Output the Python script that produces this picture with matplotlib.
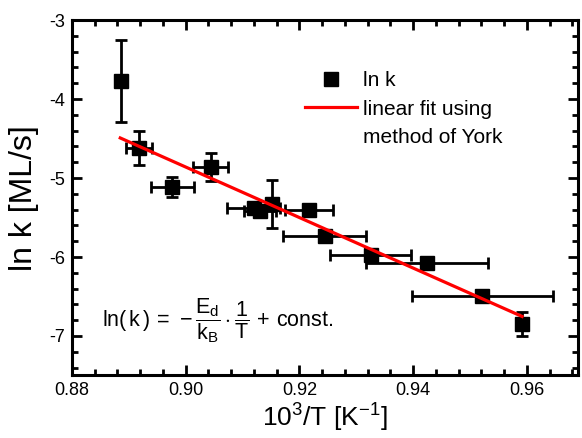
import matplotlib
matplotlib.use('Agg')
import matplotlib.pyplot as plt
from matplotlib.lines import Line2D
from matplotlib.ticker import MultipleLocator, FormatStrFormatter
import numpy as np

plt.rcParams['font.family'] = ['Liberation Sans', 'DejaVu Sans']
plt.rcParams['axes.unicode_minus'] = False
plt.rcParams['mathtext.fontset'] = 'custom'
plt.rcParams['mathtext.rm'] = 'Liberation Sans'
plt.rcParams['mathtext.it'] = 'Liberation Sans:italic'
plt.rcParams['mathtext.bf'] = 'Liberation Sans:bold'

# Data: 10^3/T, ln k and their error bars
inv_T = [0.88869, 0.89186, 0.89767, 0.90437, 0.91195, 0.91300, 0.91512,
         0.92164, 0.92446, 0.93256, 0.94243, 0.95212, 0.95917]
ln_k = [-3.772, -4.620, -5.114, -4.861, -5.380, -5.418, -5.329,
        -5.405, -5.734, -5.975, -6.076, -6.494, -6.848]
x_err = [0.0, 0.0023, 0.0038, 0.0030, 0.0046, 0.0028, 0.0,
         0.0042, 0.0073, 0.0071, 0.0107, 0.0124, 0.0]
y_err = [0.513, 0.22, 0.13, 0.177, 0.05, 0.07, 0.30,
         0.08, 0.05, 0.05, 0.04, 0.04, 0.158]

# York fit: ln k = slope * (10^3/T) + intercept
fit_slope = -31.97
fit_intercept = 23.912

fig = plt.figure(figsize=(5.82, 4.38), dpi=100)
ax = fig.add_axes([0.1237, 0.1427, 0.8694, 0.8116])

ax.errorbar(inv_T, ln_k, xerr=x_err, yerr=y_err, fmt='s', color='black',
            ms=9.5, elinewidth=2.0, capsize=4.5, capthick=2.0, zorder=3)

x_fit = np.array([min(inv_T) - 0.0002, max(inv_T)])
ax.plot(x_fit, fit_slope * x_fit + fit_intercept, color='red', lw=2.3, zorder=4)

ax.set_xlim(0.88, 0.969)
ax.set_ylim(-7.5, -3)
ax.xaxis.set_major_locator(MultipleLocator(0.02))
ax.xaxis.set_minor_locator(MultipleLocator(0.004))
ax.yaxis.set_major_locator(MultipleLocator(1))
ax.yaxis.set_minor_locator(MultipleLocator(0.2))
ax.xaxis.set_major_formatter(FormatStrFormatter('%.2f'))
ax.yaxis.set_major_formatter(FormatStrFormatter('%d'))

ax.tick_params(which='both', direction='in', top=True, right=True, width=2.0)
ax.tick_params(which='major', length=7, labelsize=13, pad=5)
ax.tick_params(which='minor', length=4)
for sp in ax.spines.values():
    sp.set_linewidth(2.2)

ax.set_xlabel(r'10$^{3}$/T [K$^{-1}$]', fontsize=19, labelpad=2)
ax.set_ylabel('ln k [ML/s]', fontsize=23, labelpad=7)

handles = [Line2D([], [], marker='s', color='black', linestyle='none', ms=9.5),
           Line2D([], [], color='red', lw=2.3),
           Line2D([], [], linestyle='none')]
labels = ['ln k', 'linear fit using', 'method of York']
ax.legend(handles, labels, loc='upper left', bbox_to_anchor=(0.44, 0.885),
          frameon=False, fontsize=15, handlelength=2.5, handletextpad=0.3,
          labelspacing=0.45, borderpad=0)

ax.text(0.06, 0.155,
        r'$\mathrm{ln(\,k\,)}\,=\,-\dfrac{\mathrm{E_d}}{\mathrm{k_B}}\cdot\dfrac{1}{\mathrm{T}}\,+\,\mathrm{const.}$',
        transform=ax.transAxes, fontsize=15.5, va='center', ha='left')

fig.savefig('out.png', dpi=100)
